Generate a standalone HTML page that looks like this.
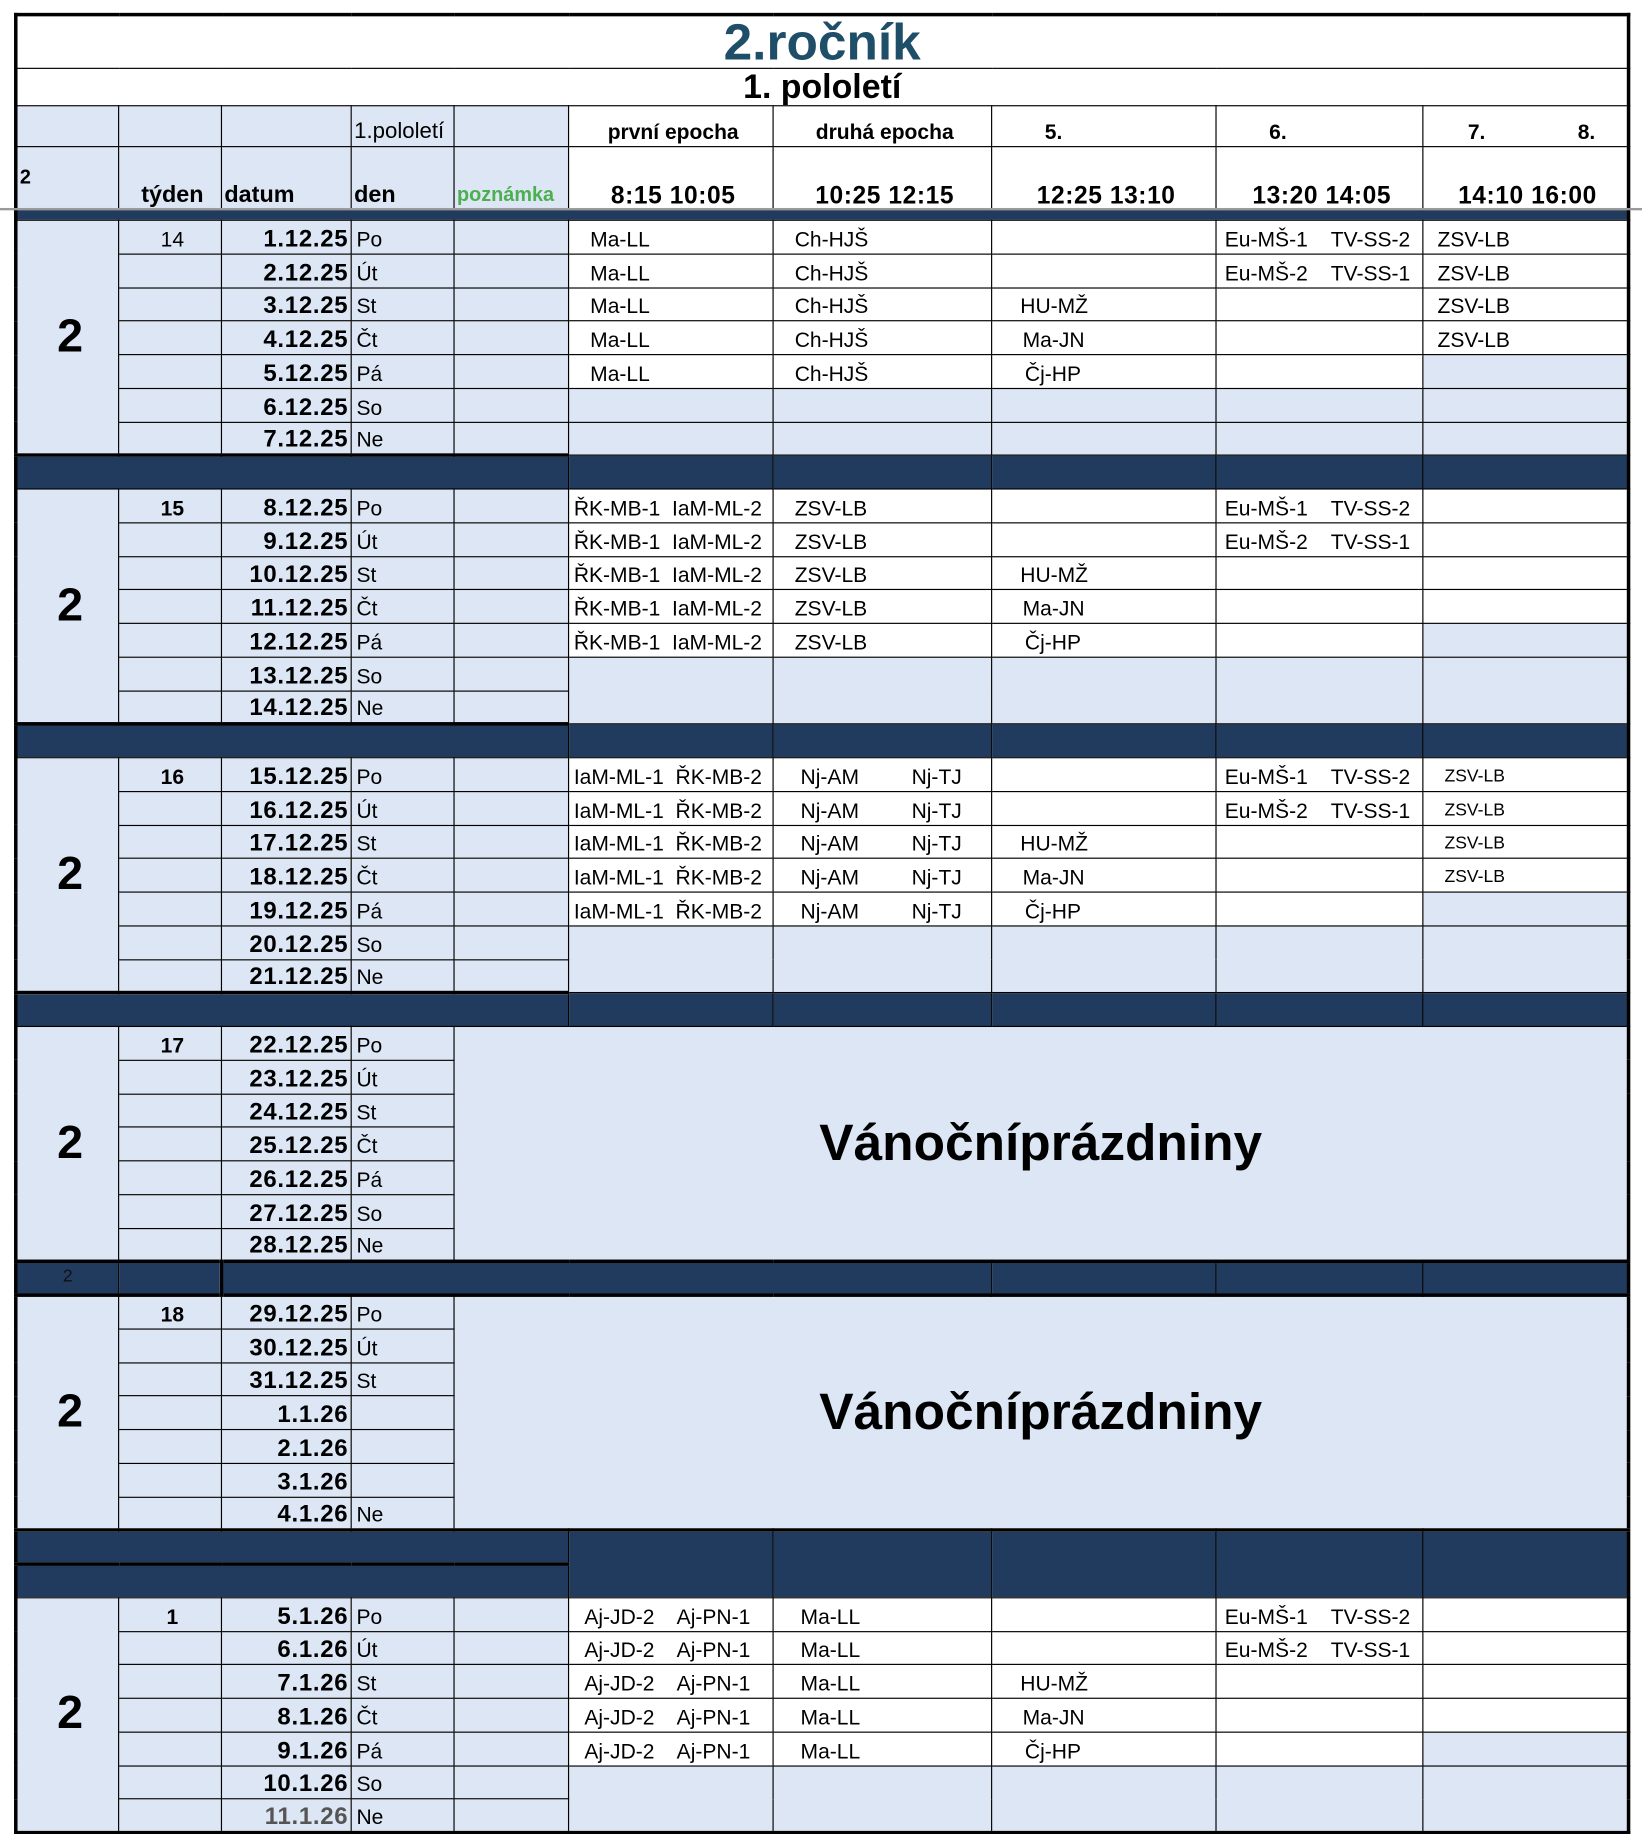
<!DOCTYPE html>
<html><head><meta charset="utf-8">
<style>
html,body{margin:0;padding:0;background:#fff;width:1642px;height:1832px;overflow:hidden}
#w{position:absolute;left:0;top:0;width:1405px;height:1568px;transform:scale(1.16868,1.1684);transform-origin:0 0}
table{position:absolute;left:12px;top:11px;border-collapse:collapse;table-layout:fixed;width:1380px;border:3px solid #000;font-family:"Liberation Sans",Arial,sans-serif}
td{border:1.5px solid #000;padding:0 0 2px 4px;white-space:nowrap;overflow:hidden;font-size:18px;vertical-align:bottom;background:#fff;line-height:20px}
tr.r{height:28.75px}
.lb{background:#dce6f4}
.nv{background:#213b5f}
.d{font-weight:bold;text-align:right;padding-right:2px;font-size:20.5px;letter-spacing:0.6px}
.w{text-align:center;font-weight:bold;font-size:18px}
.big{text-align:center;vertical-align:middle;font-weight:bold;font-size:40px;background:#dce6f4}
.hol{text-align:center;vertical-align:middle;font-weight:bold;font-size:44px;background:#dce6f4;padding:0}
.t{font-weight:bold;font-size:21px;text-align:center;padding-bottom:1px;letter-spacing:0.5px}
.s{font-size:15px}
#gl{position:absolute;left:0;top:177.5px;width:1405px;height:2px;background:#9a9a9a}
</style></head><body><div id="w">
<table>
<colgroup><col style="width:88px"><col style="width:88px"><col style="width:111px"><col style="width:88px"><col style="width:98px"><col style="width:175px"><col style="width:187px"><col style="width:192px"><col style="width:177px"><col style="width:176px"></colgroup>
<tr style="height:46px"><td colspan="10" style="text-align:center;font-weight:bold;font-size:44px;color:#1f4e69;line-height:42px;padding:0">2.ročník</td></tr>
<tr style="height:32px"><td colspan="10" style="text-align:center;font-weight:bold;font-size:29px;line-height:30px;padding:0">1. pololetí</td></tr>
<tr style="height:35px"><td class="lb"></td><td class="lb"></td><td class="lb"></td><td class="lb" style="font-size:19px;padding-left:2px">1.pololetí</td><td class="lb"></td><td style="text-align:center;font-weight:bold;font-size:18px">první epocha</td><td style="text-align:center;font-weight:bold;font-size:18px">druhá epocha</td><td style="font-weight:bold;padding-left:45px">5.</td><td style="font-weight:bold;padding-left:45px">6.</td><td style="font-weight:bold;padding-left:38px">7.<span style="display:inline-block;width:79px"></span>8.</td></tr>
<tr style="height:54px"><td class="lb" style="vertical-align:middle;font-weight:bold;font-size:17px;padding-left:2px">2</td><td class="lb w" style="font-size:20px">týden</td><td class="lb" style="font-weight:bold;font-size:20px;padding-left:2px">datum</td><td class="lb" style="font-weight:bold;font-size:20px;padding-left:2px">den</td><td class="lb" style="font-weight:bold;font-size:17px;color:#4caf50;padding-left:2px">poznámka</td><td class="t">8:15 10:05</td><td class="t">10:25 12:15</td><td class="t">12:25 13:10</td><td class="t">13:20 14:05</td><td class="t">14:10 16:00</td></tr>
<tr style="height:9px"><td colspan="10" class="nv" style="padding:0"></td></tr>
<!-- W1 -->
<tr class="r"><td rowspan="7" class="big">2</td><td class="lb w" style="font-weight:normal">14</td><td class="lb d">1.12.25</td><td class="lb">Po</td><td class="lb"></td><td style="padding-left:18px">Ma-LL</td><td style="padding-left:18px">Ch-HJŠ</td><td></td><td style="padding-left:7px">Eu-MŠ-1&nbsp;&nbsp;&nbsp; TV-SS-2</td><td style="padding-left:12px">ZSV-LB</td></tr>
<tr class="r"><td class="lb"></td><td class="lb d">2.12.25</td><td class="lb">Út</td><td class="lb"></td><td style="padding-left:18px">Ma-LL</td><td style="padding-left:18px">Ch-HJŠ</td><td></td><td style="padding-left:7px">Eu-MŠ-2&nbsp;&nbsp;&nbsp; TV-SS-1</td><td style="padding-left:12px">ZSV-LB</td></tr>
<tr class="r"><td class="lb"></td><td class="lb d">3.12.25</td><td class="lb">St</td><td class="lb"></td><td style="padding-left:18px">Ma-LL</td><td style="padding-left:18px">Ch-HJŠ</td><td style="padding-left:24px">HU-MŽ</td><td></td><td style="padding-left:12px">ZSV-LB</td></tr>
<tr class="r"><td class="lb"></td><td class="lb d">4.12.25</td><td class="lb">Čt</td><td class="lb"></td><td style="padding-left:18px">Ma-LL</td><td style="padding-left:18px">Ch-HJŠ</td><td style="padding-left:26px">Ma-JN</td><td></td><td style="padding-left:12px">ZSV-LB</td></tr>
<tr class="r"><td class="lb"></td><td class="lb d">5.12.25</td><td class="lb">Pá</td><td class="lb"></td><td style="padding-left:18px">Ma-LL</td><td style="padding-left:18px">Ch-HJŠ</td><td style="padding-left:28px">Čj-HP</td><td></td><td class="lb"></td></tr>
<tr class="r"><td class="lb"></td><td class="lb d">6.12.25</td><td class="lb">So</td><td class="lb"></td><td class="lb"></td><td class="lb"></td><td class="lb"></td><td class="lb"></td><td class="lb"></td></tr>
<tr class="r"><td class="lb"></td><td class="lb d">7.12.25</td><td class="lb">Ne</td><td class="lb"></td><td class="lb"></td><td class="lb"></td><td class="lb"></td><td class="lb"></td><td class="lb"></td></tr>
<tr class="r"><td colspan="5" class="nv" style="border-top:3px solid #000"></td><td class="nv"></td><td class="nv"></td><td class="nv"></td><td class="nv"></td><td class="nv"></td></tr>
<!-- W2 -->
<tr class="r"><td rowspan="7" class="big">2</td><td class="lb w">15</td><td class="lb d">8.12.25</td><td class="lb">Po</td><td class="lb"></td><td>ŘK-MB-1&nbsp; IaM-ML-2</td><td style="padding-left:18px">ZSV-LB</td><td></td><td style="padding-left:7px">Eu-MŠ-1&nbsp;&nbsp;&nbsp; TV-SS-2</td><td></td></tr>
<tr class="r"><td class="lb"></td><td class="lb d">9.12.25</td><td class="lb">Út</td><td class="lb"></td><td>ŘK-MB-1&nbsp; IaM-ML-2</td><td style="padding-left:18px">ZSV-LB</td><td></td><td style="padding-left:7px">Eu-MŠ-2&nbsp;&nbsp;&nbsp; TV-SS-1</td><td></td></tr>
<tr class="r"><td class="lb"></td><td class="lb d">10.12.25</td><td class="lb">St</td><td class="lb"></td><td>ŘK-MB-1&nbsp; IaM-ML-2</td><td style="padding-left:18px">ZSV-LB</td><td style="padding-left:24px">HU-MŽ</td><td></td><td></td></tr>
<tr class="r"><td class="lb"></td><td class="lb d">11.12.25</td><td class="lb">Čt</td><td class="lb"></td><td>ŘK-MB-1&nbsp; IaM-ML-2</td><td style="padding-left:18px">ZSV-LB</td><td style="padding-left:26px">Ma-JN</td><td></td><td></td></tr>
<tr class="r"><td class="lb"></td><td class="lb d">12.12.25</td><td class="lb">Pá</td><td class="lb"></td><td>ŘK-MB-1&nbsp; IaM-ML-2</td><td style="padding-left:18px">ZSV-LB</td><td style="padding-left:28px">Čj-HP</td><td></td><td class="lb"></td></tr>
<tr class="r"><td class="lb"></td><td class="lb d">13.12.25</td><td class="lb">So</td><td class="lb"></td><td rowspan="2" class="lb"></td><td rowspan="2" class="lb"></td><td rowspan="2" class="lb"></td><td rowspan="2" class="lb"></td><td rowspan="2" class="lb"></td></tr>
<tr class="r"><td class="lb"></td><td class="lb d">14.12.25</td><td class="lb">Ne</td><td class="lb"></td></tr>
<tr class="r"><td colspan="5" class="nv" style="border-top:3px solid #000"></td><td class="nv"></td><td class="nv"></td><td class="nv"></td><td class="nv"></td><td class="nv"></td></tr>
<!-- W3 -->
<tr class="r"><td rowspan="7" class="big">2</td><td class="lb w">16</td><td class="lb d">15.12.25</td><td class="lb">Po</td><td class="lb"></td><td>IaM-ML-1&nbsp; ŘK-MB-2</td><td style="padding-left:23px">Nj-AM<span style="display:inline-block;width:45px"></span>Nj-TJ</td><td></td><td style="padding-left:7px">Eu-MŠ-1&nbsp;&nbsp;&nbsp; TV-SS-2</td><td class="s" style="padding-left:18px">ZSV-LB</td></tr>
<tr class="r"><td class="lb"></td><td class="lb d">16.12.25</td><td class="lb">Út</td><td class="lb"></td><td>IaM-ML-1&nbsp; ŘK-MB-2</td><td style="padding-left:23px">Nj-AM<span style="display:inline-block;width:45px"></span>Nj-TJ</td><td></td><td style="padding-left:7px">Eu-MŠ-2&nbsp;&nbsp;&nbsp; TV-SS-1</td><td class="s" style="padding-left:18px">ZSV-LB</td></tr>
<tr class="r"><td class="lb"></td><td class="lb d">17.12.25</td><td class="lb">St</td><td class="lb"></td><td>IaM-ML-1&nbsp; ŘK-MB-2</td><td style="padding-left:23px">Nj-AM<span style="display:inline-block;width:45px"></span>Nj-TJ</td><td style="padding-left:24px">HU-MŽ</td><td></td><td class="s" style="padding-left:18px">ZSV-LB</td></tr>
<tr class="r"><td class="lb"></td><td class="lb d">18.12.25</td><td class="lb">Čt</td><td class="lb"></td><td>IaM-ML-1&nbsp; ŘK-MB-2</td><td style="padding-left:23px">Nj-AM<span style="display:inline-block;width:45px"></span>Nj-TJ</td><td style="padding-left:26px">Ma-JN</td><td></td><td class="s" style="padding-left:18px">ZSV-LB</td></tr>
<tr class="r"><td class="lb"></td><td class="lb d">19.12.25</td><td class="lb">Pá</td><td class="lb"></td><td>IaM-ML-1&nbsp; ŘK-MB-2</td><td style="padding-left:23px">Nj-AM<span style="display:inline-block;width:45px"></span>Nj-TJ</td><td style="padding-left:28px">Čj-HP</td><td></td><td class="lb"></td></tr>
<tr class="r"><td class="lb"></td><td class="lb d">20.12.25</td><td class="lb">So</td><td class="lb"></td><td rowspan="2" class="lb"></td><td rowspan="2" class="lb"></td><td rowspan="2" class="lb"></td><td rowspan="2" class="lb"></td><td rowspan="2" class="lb"></td></tr>
<tr class="r"><td class="lb"></td><td class="lb d">21.12.25</td><td class="lb">Ne</td><td class="lb"></td></tr>
<tr class="r"><td colspan="5" class="nv" style="border-top:3px solid #000"></td><td class="nv"></td><td class="nv"></td><td class="nv"></td><td class="nv"></td><td class="nv"></td></tr>
<!-- W4 -->
<tr class="r"><td rowspan="7" class="big">2</td><td class="lb w">17</td><td class="lb d">22.12.25</td><td class="lb">Po</td><td colspan="6" rowspan="7" class="hol">Vánočníprázdniny</td></tr>
<tr class="r"><td class="lb"></td><td class="lb d">23.12.25</td><td class="lb">Út</td></tr>
<tr class="r"><td class="lb"></td><td class="lb d">24.12.25</td><td class="lb">St</td></tr>
<tr class="r"><td class="lb"></td><td class="lb d">25.12.25</td><td class="lb">Čt</td></tr>
<tr class="r"><td class="lb"></td><td class="lb d">26.12.25</td><td class="lb">Pá</td></tr>
<tr class="r"><td class="lb"></td><td class="lb d">27.12.25</td><td class="lb">So</td></tr>
<tr class="r"><td class="lb"></td><td class="lb d">28.12.25</td><td class="lb">Ne</td></tr>
<tr class="r" style="border-top:3px solid #000;border-bottom:3px solid #000"><td class="nv" style="text-align:center;font-size:15px;color:#111;padding:0 0 4px 0">2</td><td class="nv" style="border-right:3px solid #000"></td><td colspan="5" class="nv"></td><td class="nv"></td><td class="nv"></td><td class="nv"></td></tr>
<!-- W5 -->
<tr class="r"><td rowspan="7" class="big">2</td><td class="lb w">18</td><td class="lb d">29.12.25</td><td class="lb">Po</td><td colspan="6" rowspan="7" class="hol">Vánočníprázdniny</td></tr>
<tr class="r"><td class="lb"></td><td class="lb d">30.12.25</td><td class="lb">Út</td></tr>
<tr class="r"><td class="lb"></td><td class="lb d">31.12.25</td><td class="lb">St</td></tr>
<tr class="r"><td class="lb"></td><td class="lb d">1.1.26</td><td class="lb"></td></tr>
<tr class="r"><td class="lb"></td><td class="lb d">2.1.26</td><td class="lb"></td></tr>
<tr class="r"><td class="lb"></td><td class="lb d">3.1.26</td><td class="lb"></td></tr>
<tr class="r"><td class="lb"></td><td class="lb d">4.1.26</td><td class="lb">Ne</td></tr>
<tr class="r" style="border-top:3px solid #000"><td colspan="5" class="nv" style="border-bottom:3px solid #000"></td><td rowspan="2" class="nv"></td><td rowspan="2" class="nv"></td><td rowspan="2" class="nv"></td><td rowspan="2" class="nv"></td><td rowspan="2" class="nv"></td></tr>
<tr class="r"><td colspan="5" class="nv"></td></tr>
<!-- W6 -->
<tr class="r"><td rowspan="7" class="big">2</td><td class="lb w">1</td><td class="lb d">5.1.26</td><td class="lb">Po</td><td class="lb"></td><td style="padding-left:13px">Aj-JD-2&nbsp;&nbsp;&nbsp; Aj-PN-1</td><td style="padding-left:23px">Ma-LL</td><td></td><td style="padding-left:7px">Eu-MŠ-1&nbsp;&nbsp;&nbsp; TV-SS-2</td><td></td></tr>
<tr class="r"><td class="lb"></td><td class="lb d">6.1.26</td><td class="lb">Út</td><td class="lb"></td><td style="padding-left:13px">Aj-JD-2&nbsp;&nbsp;&nbsp; Aj-PN-1</td><td style="padding-left:23px">Ma-LL</td><td></td><td style="padding-left:7px">Eu-MŠ-2&nbsp;&nbsp;&nbsp; TV-SS-1</td><td></td></tr>
<tr class="r"><td class="lb"></td><td class="lb d">7.1.26</td><td class="lb">St</td><td class="lb"></td><td style="padding-left:13px">Aj-JD-2&nbsp;&nbsp;&nbsp; Aj-PN-1</td><td style="padding-left:23px">Ma-LL</td><td style="padding-left:24px">HU-MŽ</td><td></td><td></td></tr>
<tr class="r"><td class="lb"></td><td class="lb d">8.1.26</td><td class="lb">Čt</td><td class="lb"></td><td style="padding-left:13px">Aj-JD-2&nbsp;&nbsp;&nbsp; Aj-PN-1</td><td style="padding-left:23px">Ma-LL</td><td style="padding-left:26px">Ma-JN</td><td></td><td></td></tr>
<tr class="r"><td class="lb"></td><td class="lb d">9.1.26</td><td class="lb">Pá</td><td class="lb"></td><td style="padding-left:13px">Aj-JD-2&nbsp;&nbsp;&nbsp; Aj-PN-1</td><td style="padding-left:23px">Ma-LL</td><td style="padding-left:28px">Čj-HP</td><td></td><td class="lb"></td></tr>
<tr class="r"><td class="lb"></td><td class="lb d">10.1.26</td><td class="lb">So</td><td class="lb"></td><td rowspan="2" class="lb"></td><td rowspan="2" class="lb"></td><td rowspan="2" class="lb"></td><td rowspan="2" class="lb"></td><td rowspan="2" class="lb"></td></tr>
<tr class="r"><td class="lb"></td><td class="lb d" style="color:#555">11.1.26</td><td class="lb">Ne</td><td class="lb"></td></tr>
</table>
<div id="gl"></div>
</div></body></html>
